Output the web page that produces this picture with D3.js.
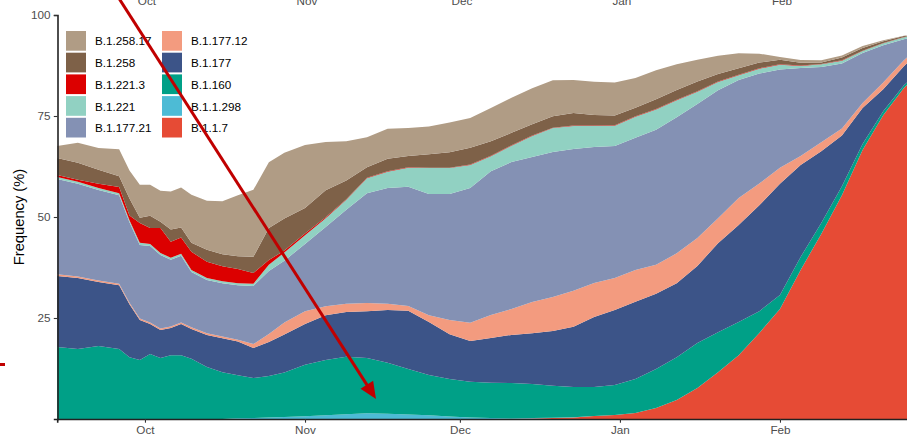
<!DOCTYPE html>
<html><head><meta charset="utf-8">
<script src="https://cdn.jsdelivr.net/npm/d3@7"></script>
<style>
body{margin:0;background:#fff;overflow:hidden}
svg{display:block;font-family:"Liberation Sans",Arial,Helvetica,sans-serif}
</style>
</head><body>
<svg id="chart" width="907" height="434"></svg>
<script>
// ---- data (frequency %) ----
const dates = ["2020-09-14","2020-09-18","2020-09-22","2020-09-26","2020-09-28","2020-09-30",
"2020-10-02","2020-10-04","2020-10-06","2020-10-08","2020-10-10","2020-10-13","2020-10-16","2020-10-19","2020-10-22","2020-10-25","2020-10-28",
"2020-11-01","2020-11-05","2020-11-09","2020-11-13","2020-11-17","2020-11-21","2020-11-25","2020-11-29",
"2020-12-03","2020-12-07","2020-12-11","2020-12-15","2020-12-19","2020-12-23","2020-12-27","2020-12-31",
"2021-01-04","2021-01-08","2021-01-12","2021-01-16","2021-01-20","2021-01-24","2021-01-28",
"2021-02-01","2021-02-05","2021-02-09","2021-02-13","2021-02-17","2021-02-21","2021-02-25","2021-02-27"];

// stacking order, bottom to top
const lineages = ["B.1.1.7","B.1.1.298","B.1.160","B.1.177","B.1.177.12","B.1.177.21","B.1.221","B.1.221.3","B.1.258","B.1.258.17"];
const lineageColors = ["#E64B35","#4DBBD5","#00A087","#3C5488","#F39B7F","#8491B4","#91D1C2","#DC0000","#7E6148","#B09C85"];

const B_1_1_7 = [0,0,0,0,0,0, 0,0,0,0,0,0,0,0,0,0,0, 0,0,0,0,0,0,0,0, 0,0,0,0.12,0.25,0.37,0.75,1.0,
  1.5,2.7,4.7,7.7,11.6,15.8,21.3, 27.2,36.9,45.8,55.4,66.6,75.2,81.9,84.4];
const B_1_1_298 = [0,0,0,0,0,0, 0,0,0,0,0,0,0,0.2,0.25,0.35,0.5, 0.7,0.9,1.2,1.4,1.3,1.1,0.9,0.6,
  0.4,0.25,0.12,0.12,0.05,0.05,0,0, 0,0,0,0,0,0,0, 0,0,0,0,0,0,0,0];
const B_1_160 = [17.8,17.3,18.1,17.3,15.3,14.6, 16.1,15.1,15.8,15.8,14.9,12.9,11.6,10.6,9.9,10.3,11.0,
  12.7,13.7,14.2,13.7,12.6,11.3,10.0,9.3, 8.8,8.7,8.8,8.4,7.9,7.5,7.2,7.4,
  8.4,9.7,10.6,11.1,9.9,8.2,5.4, 3.5,3.2,2.7,2.2,1.5,1.0,0.7,0.5];
const B_1_177 = [17.6,17.6,15.8,15.8,13.1,9.9, 7.4,6.9,6.7,7.7,7.4,7.9,8.4,8.4,7.4,8.4,9.4,
  10.1,11.1,11.1,11.6,13.1,14.4,13.1,11.1, 10.1,11.1,11.9,12.6,13.6,14.9,17.3,18.6,
  19.1,18.6,18.3,19.1,22.0,24.0,26.2, 27.5,22.8,17.8,12.6,8.9,5.4,4.7,5.0];
const B_1_177_12 = [0.4,0.4,0.4,0.4,0.4,0.4, 0.4,0.4,0.4,0.4,0.4,0.4,0.4,0.4,1.0,2.0,3.0,
  3.2,2.2,2.0,2.0,1.5,1.2,1.7,3.5, 4.5,5.7,6.4,7.7,8.4,8.9,8.4,7.9,
  7.9,7.2,7.4,6.9,6.2,6.7,5.4, 4.0,2.2,2.2,1.7,1.2,1.7,1.5,1.2];
const B_1_177_21 = [23.6,22.9,22.4,21.9,19.9,18.2, 18.9,18.2,16.5,16.5,13.7,13.2,13.2,13.5,14.4,15.6,15.3,
  16.6,19.6,23.3,27.2,28.7,29.5,30.0,31.2, 33.4,35.6,36.4,35.9,35.9,35.1,33.7,32.7,
  32.7,33.4,33.7,33.2,31.7,29.2,27.2, 24.3,21.8,18.6,16.1,12.4,9.2,5.2,3.5];
const B_1_221 = [0.5,0.5,0.5,0.5,0.5,0.5, 0.5,0.5,0.5,0.5,0.5,0.5,0.5,0.5,0.5,1.5,2.0,
  2.2,2.2,2.5,3.7,4.0,4.7,6.4,6.4, 5.7,3.7,4.0,5.2,5.9,5.7,5.2,5.0,
  5.2,5.0,4.2,3.0,2.0,1.2,1.2, 1.2,0.5,0.7,0.7,0.5,0.5,0.5,0.37];
const B_1_221_3 = [0.5,0.5,1.0,1.5,1.2,4.9, 4.0,6.2,4.0,4.0,4.5,4.0,3.7,3.5,2.7,1.2,0.5,
  0.4,0.25,0.12,0.12,0.12,0.12,0.12,0.12, 0.12,0.12,0.12,0.12,0.12,0.12,0.12,0.12,
  0.12,0.12,0.12,0.12,0.12,0.12,0.12, 0.12,0.07,0.07,0.07,0.05,0.05,0.05,0.05];
const B_1_258 = [4.2,4.2,3.5,2.7,4.2,1.3, 3.0,1.5,3.0,2.5,2.2,3.0,3.0,3.2,4.0,7.9,7.9,
  6.3,6.7,4.6,2.6,3.1,2.8,3.3,3.8, 4.1,3.6,3.1,2.8,2.8,3.1,2.6,2.4,
  2.1,2.4,2.4,2.4,1.9,1.6,1.4, 1.1,0.7,0.4,0.7,0.7,0.45,0.25,0.2];
const B_1_258_17 = [3.0,5.0,5.4,6.7,6.9,8.2, 7.7,7.7,9.4,9.9,11.9,12.1,13.1,15.1,16.6,16.3,16.3,
  15.6,11.9,9.7,7.4,7.4,6.9,6.9,7.4, 7.4,8.2,8.7,8.9,8.9,8.2,8.2,8.2,
  7.4,7.2,6.4,5.4,4.5,3.7,2.2, 0.7,0.7,0.5,0.5,0.5,0.25,0.07,0.12];

const seriesValues = [B_1_1_7,B_1_1_298,B_1_160,B_1_177,B_1_177_12,B_1_177_21,B_1_221,B_1_221_3,B_1_258,B_1_258_17];
const yTicks = [25,50,75,100];
const monthTicks = ["2020-10-01","2020-11-01","2020-12-01","2021-01-01","2021-02-01"];
const yTitle = "Frequency (%)";
// legend order (two columns, filled column-wise)
const legendOrder = ["B.1.258.17","B.1.258","B.1.221.3","B.1.221","B.1.177.21","B.1.177.12","B.1.177","B.1.160","B.1.1.298","B.1.1.7"];

// ---- build table ----
const rows = dates.map((d,i)=>{
  const r = {date: new Date(d+"T00:00:00Z")};
  lineages.forEach((k,j)=>{ r[k] = seriesValues[j][i]; });
  return r;
});
const color = d3.scaleOrdinal().domain(lineages).range(lineageColors);

const svg = d3.select("#chart");
const x = d3.scaleUtc()
  .domain([new Date("2020-09-14T00:00:00Z"), new Date("2021-02-27T00:00:00Z")])
  .range([57.2, 914.2]);
const y = d3.scaleLinear().domain([0,100]).range([419,15]);

const stack = d3.stack().keys(lineages);
const layers = stack(rows);
const area = d3.area()
  .x(d=>x(d.data.date))
  .y0(d=>y(d[0]))
  .y1(d=>y(d[1]));

svg.append("g").selectAll("path").data(layers).join("path")
  .attr("d", area)
  .attr("fill", d=>color(d.key));

// ---- axes ----
const axisColor = "#222";
const textColor = "#4D4D4D";
const gx = svg.append("g").attr("transform","translate(0,419)")
  .call(d3.axisBottom(x).tickValues(monthTicks.map(m=>new Date(m+"T00:00:00Z")))
    .tickFormat(d3.utcFormat("%b")).tickSizeOuter(0).tickSize(3.7).tickPadding(3));
gx.select(".domain").attr("stroke",axisColor).attr("stroke-width",1.6);
gx.selectAll(".tick line").attr("stroke","#333").attr("stroke-width",1.1);
gx.selectAll(".tick text").attr("fill",textColor).style("font-size","11.7px")
  .style("font-family","'Liberation Sans',Arial,sans-serif");

const gy = svg.append("g").attr("transform","translate(57.5,0)")
  .call(d3.axisLeft(y).tickValues(yTicks).tickSizeOuter(0).tickSize(3.7).tickPadding(3.3));
gy.select(".domain").attr("stroke",axisColor).attr("stroke-width",1.6);
gy.selectAll(".tick line").attr("stroke","#333").attr("stroke-width",1.1);
gy.selectAll(".tick text").attr("fill",textColor).style("font-size","11.7px")
  .style("font-family","'Liberation Sans',Arial,sans-serif");

// top labels (axis of panel above, cropped)
svg.append("g").selectAll("text").data(monthTicks).join("text")
  .attr("x", m=>x(new Date(m+"T00:00:00Z"))+2)
  .attr("y", 4.5)
  .attr("text-anchor","middle")
  .attr("fill",textColor)
  .style("font-size","11.7px")
  .text(m=>d3.utcFormat("%b")(new Date(m+"T00:00:00Z")));

// y title
svg.append("text")
  .attr("transform","translate(23.5,217) rotate(-90)")
  .attr("text-anchor","middle")
  .attr("fill","#000")
  .style("font-size","14.7px")
  .text(yTitle);

// ---- legend ----
const lg = svg.append("g");
legendOrder.forEach((k,i)=>{
  const col = Math.floor(i/5), row = i%5;
  const lx = 66 + col*96, ly = 31 + row*21.7;
  lg.append("rect").attr("x",lx).attr("y",ly).attr("width",20).attr("height",19.7)
    .attr("fill",color(k));
  lg.append("text").attr("x",lx+29).attr("y",ly+14.4)
    .attr("fill","#000").style("font-size","11.7px").text(k);
});

// ---- annotation arrow ----
const tip = [376,399], ux = 0.540, uy = 0.842, headLen = 17, headHalf = 7.5;
const base = [tip[0]-ux*headLen, tip[1]-uy*headLen];
const arrowCol = "#C00000";
svg.append("line")
  .attr("x1", 120-ux*25).attr("y1", 0-uy*25)
  .attr("x2", base[0]+ux*2).attr("y2", base[1]+uy*2)
  .attr("stroke",arrowCol).attr("stroke-width",3);
svg.append("path")
  .attr("d", `M${tip[0]},${tip[1]} L${base[0]+uy*headHalf},${base[1]-ux*headHalf} L${base[0]-uy*headHalf},${base[1]+ux*headHalf} Z`)
  .attr("fill",arrowCol);

// small red mark at left edge
svg.append("rect").attr("x",0).attr("y",363).attr("width",5).attr("height",3).attr("fill",arrowCol);
</script>
</body></html>
